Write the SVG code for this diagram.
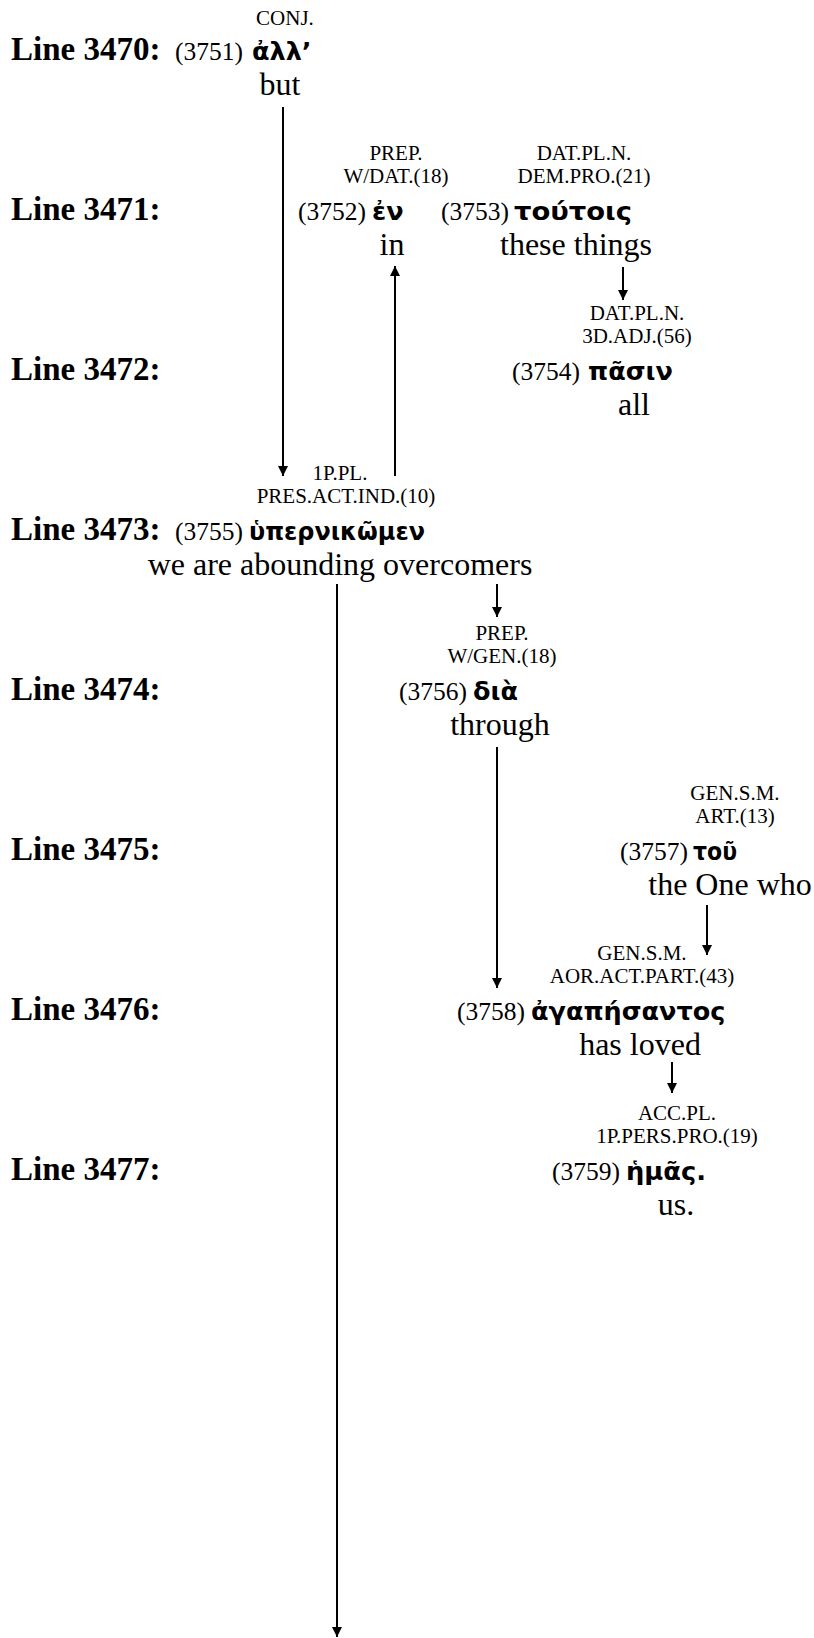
<svg xmlns="http://www.w3.org/2000/svg" width="814" height="1638" viewBox="0 0 814 1638">
<style>
.ln{font-family:"Liberation Serif","Times New Roman",serif;font-weight:bold;font-size:33px;fill:#000}
.gl{font-family:"Liberation Serif","Times New Roman",serif;font-size:32px;fill:#000;text-anchor:middle}
.lb{font-family:"Liberation Serif","Times New Roman",serif;font-size:21px;fill:#000;text-anchor:middle}
.nm{font-family:"Liberation Serif","Times New Roman",serif;font-size:25.5px;fill:#000;text-anchor:end}
.gk{font-family:"DejaVu Sans","Noto Sans",sans-serif;font-weight:bold;font-size:25.5px;fill:#000}
.cn{stroke:#000;stroke-width:2;fill:none;marker-end:url(#ah)}
</style>
<defs>
<marker id="ah" markerUnits="userSpaceOnUse" markerWidth="10" markerHeight="11" viewBox="0 0 10 11" refX="10" refY="5.5" orient="auto">
<path d="M0,0.5 L10,5.5 L0,10.5 z" fill="#000"/>
</marker>
</defs>
<rect width="814" height="1638" fill="#fff"/>
<g id="line-labels">
<text class="ln" x="11" y="59.5">Line 3470:</text>
<text class="ln" x="11" y="219.5">Line 3471:</text>
<text class="ln" x="11" y="379.5">Line 3472:</text>
<text class="ln" x="11" y="539.5">Line 3473:</text>
<text class="ln" x="11" y="699.5">Line 3474:</text>
<text class="ln" x="11" y="859.5">Line 3475:</text>
<text class="ln" x="11" y="1019.5">Line 3476:</text>
<text class="ln" x="11" y="1179.5">Line 3477:</text>
</g>
<g id="w3751">
<text class="lb" x="285" y="25">CONJ.</text>
<text class="nm" x="243" y="59.5">(3751)</text>
<text class="gk" x="252" y="59.5">ἀλλ’</text>
<text class="gl" x="280" y="94.5">but</text>
</g>
<g id="w3752">
<text class="lb" x="396" y="159.5">PREP.</text>
<text class="lb" x="396" y="182.5">W/DAT.(18)</text>
<text class="nm" x="366" y="219.5">(3752)</text>
<text class="gk" x="372" y="219.5">ἐν</text>
<text class="gl" x="392" y="254.5">in</text>
</g>
<g id="w3753">
<text class="lb" x="584" y="159.5">DAT.PL.N.</text>
<text class="lb" x="584" y="182.5">DEM.PRO.(21)</text>
<text class="nm" x="509" y="219.5">(3753)</text>
<text class="gk" x="514" y="219.5" textLength="118" lengthAdjust="spacingAndGlyphs">τούτοις</text>
<text class="gl" x="576" y="254.5">these things</text>
</g>
<g id="w3754">
<text class="lb" x="637" y="319.5">DAT.PL.N.</text>
<text class="lb" x="637" y="342.5">3D.ADJ.(56)</text>
<text class="nm" x="580" y="379.5">(3754)</text>
<text class="gk" x="588" y="379.5">πᾶσιν</text>
<text class="gl" x="634" y="414.5">all</text>
</g>
<g id="w3755">
<text class="lb" x="340" y="479.5">1P.PL.</text>
<text class="lb" x="346" y="502.5">PRES.ACT.IND.(10)</text>
<text class="nm" x="243" y="539.5">(3755)</text>
<text class="gk" x="249" y="539.5" textLength="176" lengthAdjust="spacingAndGlyphs">ὑπερνικῶμεν</text>
<text class="gl" x="340" y="574.5">we are abounding overcomers</text>
</g>
<g id="w3756">
<text class="lb" x="502" y="639.5">PREP.</text>
<text class="lb" x="502" y="662.5">W/GEN.(18)</text>
<text class="nm" x="467" y="699.5">(3756)</text>
<text class="gk" x="473" y="699.5">διὰ</text>
<text class="gl" x="500" y="734.5">through</text>
</g>
<g id="w3757">
<text class="lb" x="735" y="799.5">GEN.S.M.</text>
<text class="lb" x="735" y="822.5">ART.(13)</text>
<text class="nm" x="688" y="859.5">(3757)</text>
<text class="gk" x="693" y="859.5" textLength="44" lengthAdjust="spacingAndGlyphs">τοῦ</text>
<text class="gl" x="730" y="894.5">the One who</text>
</g>
<g id="w3758">
<text class="lb" x="642" y="959.5">GEN.S.M.</text>
<text class="lb" x="642" y="982.5">AOR.ACT.PART.(43)</text>
<text class="nm" x="525" y="1019.5">(3758)</text>
<text class="gk" x="531" y="1019.5">ἀγαπήσαντος</text>
<text class="gl" x="640" y="1054.5">has loved</text>
</g>
<g id="w3759">
<text class="lb" x="677" y="1119.5">ACC.PL.</text>
<text class="lb" x="677" y="1142.5">1P.PERS.PRO.(19)</text>
<text class="nm" x="620" y="1179.5">(3759)</text>
<text class="gk" x="626" y="1179.5" textLength="80" lengthAdjust="spacingAndGlyphs">ἡμᾶς.</text>
<text class="gl" x="676" y="1214.5">us.</text>
</g>
<g id="connectors">
<line class="cn" x1="283" y1="107" x2="283" y2="476"/>
<line class="cn" x1="395" y1="476" x2="395" y2="266"/>
<line class="cn" x1="623" y1="267" x2="623" y2="300"/>
<line class="cn" x1="497" y1="584" x2="497" y2="617"/>
<line class="cn" x1="337" y1="584" x2="337" y2="1637"/>
<line class="cn" x1="497" y1="747" x2="497" y2="988"/>
<line class="cn" x1="707" y1="905" x2="707" y2="955"/>
<line class="cn" x1="672" y1="1062" x2="672" y2="1093"/>
</g>
</svg>
